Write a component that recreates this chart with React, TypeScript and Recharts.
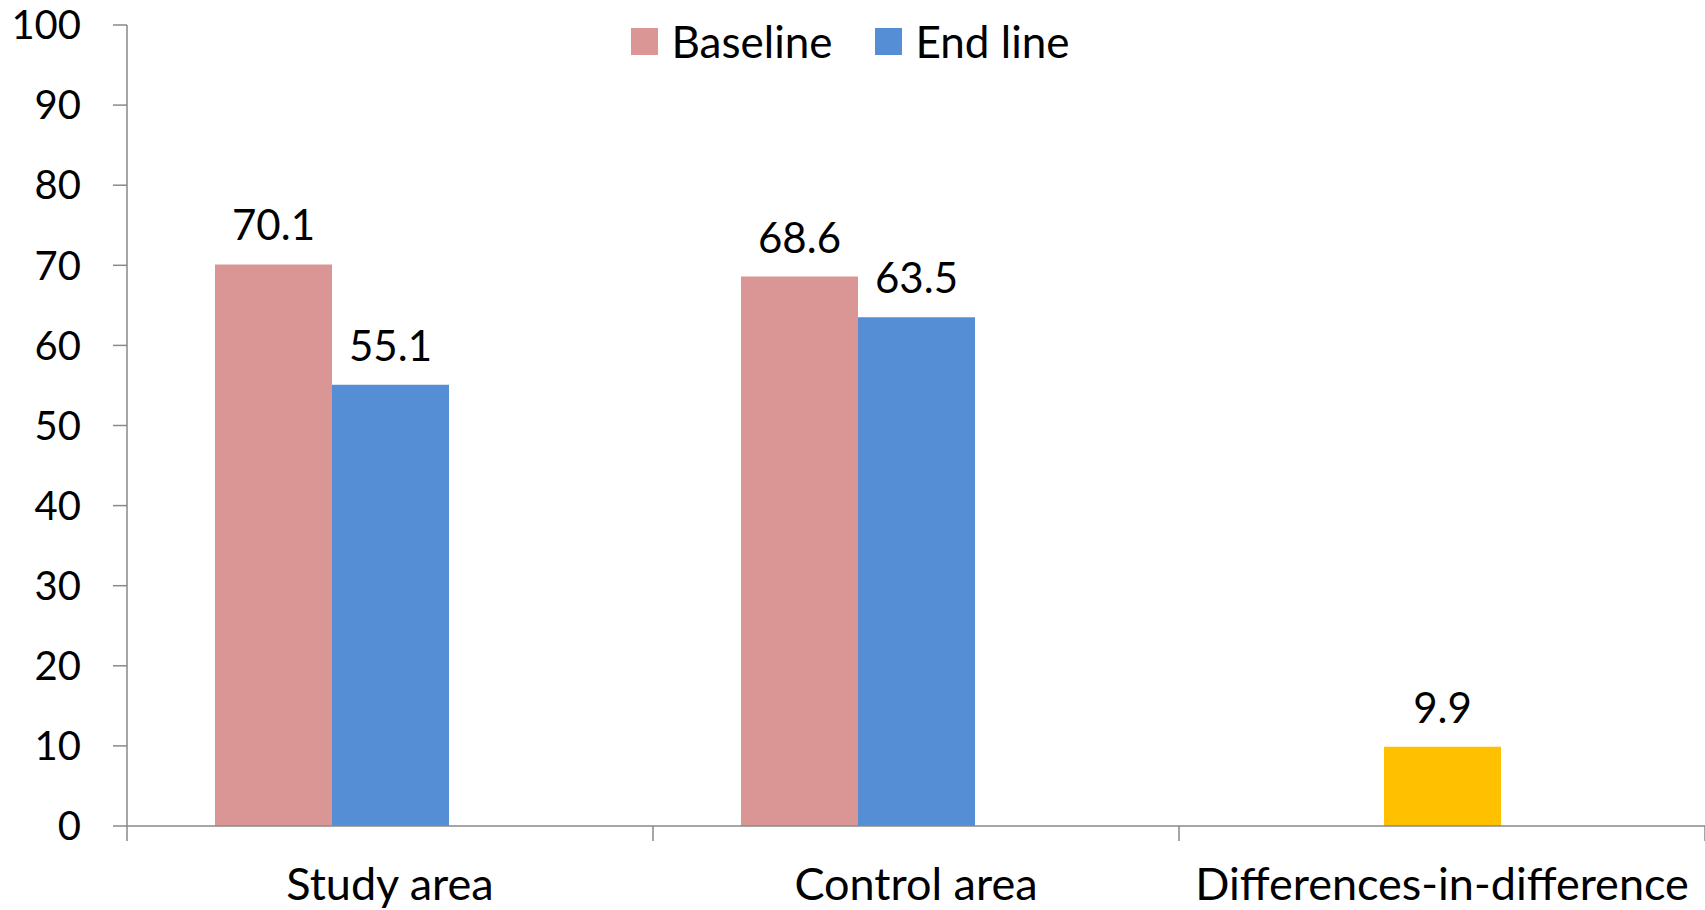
import { Bar, BarChart, Cell, LabelList, Legend, XAxis, YAxis } from "recharts";

const categories = ["Study area", "Control area", "Differences-in-difference"];
const baseline = [70.1, 68.6, null];
const endLine = [55.1, 63.5, 9.9];
const yTicks = [0, 10, 20, 30, 40, 50, 60, 70, 80, 90, 100];

const PINK = "#D99694";
const BLUE = "#558ED5";
const GOLD = "#FFC000";
const AXIS = "#898989";
const FONT = "Lato, 'Noto Sans', sans-serif";

const data = categories.map((name, i) => ({
  name,
  baseline: baseline[i],
  endLine: endLine[i],
}));

// category labels sit in the middle, tick marks on the boundaries (Excel style)
function CategoryTick(props: any) {
  const { x, y, payload, index } = props;
  const half = payload?.offset ?? 0;
  const top = y - 42;
  return (
    <g>
      <line x1={x - half} x2={x - half} y1={top} y2={top + 15} stroke={AXIS} strokeWidth={1.5} />
      {index === categories.length - 1 && (
        <line x1={x + half} x2={x + half} y1={top} y2={top + 15} stroke={AXIS} strokeWidth={1.5} />
      )}
      <text x={x} y={y} dy="0.71em" textAnchor="middle" fill="#000" fontSize={45} fontFamily={FONT}>
        {payload.value}
      </text>
    </g>
  );
}

function LegendBox() {
  const items = [
    { label: "Baseline", color: PINK },
    { label: "End line", color: BLUE },
  ];
  return (
    <div style={{ display: "flex", justifyContent: "center", gap: 42, fontFamily: FONT }}>
      {items.map((it) => (
        <div key={it.label} style={{ display: "flex", alignItems: "center", gap: 14 }}>
          <span style={{ width: 27, height: 27, background: it.color, display: "inline-block" }} />
          <span style={{ fontSize: 44, color: "#000", lineHeight: "48px" }}>{it.label}</span>
        </div>
      ))}
    </div>
  );
}

export default function App() {
  return (
    <div style={{ position: "absolute", left: 0, top: 0, background: "#fff" }}>
      <BarChart
        width={1705}
        height={910}
        data={data}
        margin={{ top: 25, right: 0, bottom: 0, left: 0 }}
        barGap={0}
        barSize={117}
      >
        <XAxis
          dataKey="name"
          height={84}
          tickLine={false}
          tickSize={15}
          tickMargin={27}
          axisLine={{ stroke: AXIS, strokeWidth: 1.5 }}
          tick={<CategoryTick />}
          interval={0}
        />
        <YAxis
          width={127}
          domain={[0, 100]}
          ticks={yTicks}
          interval={0}
          tickSize={14}
          tickMargin={32}
          axisLine={{ stroke: AXIS, strokeWidth: 1.5 }}
          tickLine={{ stroke: AXIS, strokeWidth: 1.5 }}
          tick={{ fill: "#000", fontSize: 40, fontFamily: FONT }}
        />
        <Legend
          verticalAlign="middle"
          align="center"
          content={<LegendBox />}
          wrapperStyle={{ top: 17, left: 0, width: 1700 }}
        />
        <Bar dataKey="baseline" name="Baseline" fill={PINK} isAnimationActive={false}>
          <LabelList dataKey="baseline" position="top" offset={24} fill="#000" fontSize={42} fontFamily={FONT} />
        </Bar>
        <Bar dataKey="endLine" name="End line" fill={BLUE} isAnimationActive={false}>
          {data.map((d, i) => (
            <Cell key={d.name} fill={i === categories.length - 1 ? GOLD : BLUE} />
          ))}
          <LabelList dataKey="endLine" position="top" offset={24} fill="#000" fontSize={42} fontFamily={FONT} />
        </Bar>
        {/* empty third slot so the pair sits left of centre, as in the source */}
        <Bar dataKey="slot" legendType="none" isAnimationActive={false} />
      </BarChart>
    </div>
  );
}
